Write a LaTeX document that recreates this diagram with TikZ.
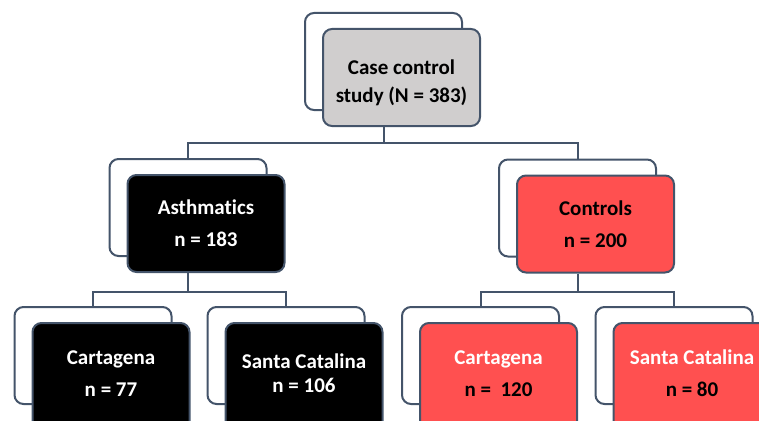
\documentclass[tikz,border=0pt]{standalone}
\usepackage{fontspec}
\setmainfont{Carlito}[Ligatures=NoCommon]
\definecolor{slate}{HTML}{44546A}
\definecolor{boxgray}{HTML}{D0CECE}
\definecolor{boxred}{HTML}{FF5050}
\tikzset{
  backframe/.style={rectangle,rounded corners=9pt,draw=slate,line width=2pt,
    fill=white,minimum width=157pt,minimum height=97pt},
  cardbox/.style={backframe,align=center,font=\bfseries\fontsize{21}{32}\selectfont},
  lowbox/.style={cardbox,minimum height=110pt,text depth=9pt},
  link/.style={draw=slate,line width=2pt}
}
\begin{document}
\begin{tikzpicture}[x=1pt,y=-1pt]
  \useasboundingbox (0,0) rectangle (759,420);
  \clip (0,0) rectangle (759,420);

  \foreach \name/\x/\y in {top/383.5/61.5,asth/188/207.5,ctrl/577.5/208,
                           cartA/93/355.5,santaA/286/355.5,
                           cartC/480.5/355.5,santaC/674/355.5}
    \node[backframe] (\name-bk) at (\x,\y) {};

  \node[cardbox,fill=boxgray,font=\bfseries\fontsize{21}{28}\selectfont,text height=54pt]
    (top) at (401.5,77.5) {Case control\\study (N = 383)};
  \node[cardbox,fill=black,text=white] (asth) at (206,223.5) {Asthmatics\\n = 183};
  \node[cardbox,fill=boxred] (ctrl) at (595.5,224) {Controls\\n = 200};
  \node[lowbox,fill=black,text=white] (cartA) at (111,378) {Cartagena\\n = 77};
  \node[lowbox,fill=black,text=white,font=\bfseries\fontsize{21}{24}\selectfont]
    (santaA) at (304,378) {Santa Catalina\\n = 106};
  \node[lowbox,fill=boxred] (cartC) at (498.5,378) {{\color{white}Cartagena}\\n = \ 120};
  \node[lowbox,fill=boxred] (santaC) at (692,378) {{\color{white}Santa Catalina}\\n = 80};

  \draw[link] (top.south -| top-bk.south) -- ++(0,16) coordinate (j1);
  \draw[link] (asth-bk.north) |- (j1) -| (ctrl-bk.north);

  \draw[link] (asth.south -| asth-bk.south) -- ++(0,19) coordinate (j2);
  \draw[link] (cartA-bk.north) |- (j2) -| (santaA-bk.north);

  \draw[link] (ctrl.south -| ctrl-bk.south) -- ++(0,18) coordinate (j3);
  \draw[link] (cartC-bk.north) |- (j3) -| (santaC-bk.north);
\end{tikzpicture}
\end{document}
